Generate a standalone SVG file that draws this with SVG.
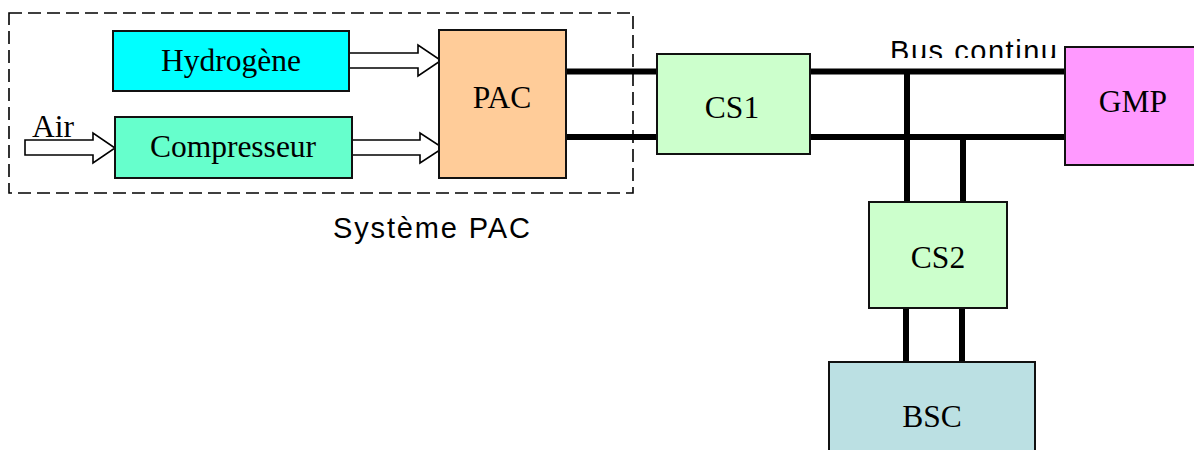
<svg xmlns="http://www.w3.org/2000/svg" width="1194" height="450" viewBox="0 0 1194 450">
<style>
.box{stroke:#111;stroke-width:2}
.lbl{font-family:"Liberation Serif","Times New Roman",serif;font-size:31.5px;fill:#000;text-anchor:middle}
.sans{font-family:"Liberation Sans",Arial,sans-serif;font-size:29px;fill:#000}
.bus{stroke:#000;stroke-width:6;fill:none}
.arr{fill:#fff;stroke:#000;stroke-width:1.6;stroke-linejoin:miter}
</style>
<defs>
<clipPath id="busclip"><rect x="880" y="30" width="200" height="28"/></clipPath>
</defs>
<rect x="9" y="13" width="624" height="180" fill="none" stroke="#000" stroke-width="1.6" stroke-dasharray="13 6"/>
<text class="sans" x="333" y="238" textLength="197" lengthAdjust="spacing">Système PAC</text>
<g id="connectors">
<polygon class="arr" points="349,53 418,53 418,45 441,60.5 418,76 418,68 349,68"/>
<polygon class="arr" points="25,140 93,140 93,133 115,148 93,163 93,155 25,155"/>
<polygon class="arr" points="352,140 420,140 420,133 443,148 420,163 420,155 352,155"/>
<line class="bus" x1="566" y1="71.5" x2="657" y2="71.5"/>
<line class="bus" x1="566" y1="137" x2="657" y2="137"/>
<line class="bus" x1="810" y1="71.5" x2="1065" y2="71.5"/>
<line class="bus" x1="810" y1="137" x2="1065" y2="137"/>
<line class="bus" x1="907" y1="69" x2="907" y2="203"/>
<line class="bus" x1="963" y1="134" x2="963" y2="203"/>
<line class="bus" x1="906" y1="308" x2="906" y2="362"/>
<line class="bus" x1="962" y1="308" x2="962" y2="362"/>
</g>
<text class="lbl" x="32" y="137" style="text-anchor:start">Air</text>
<text class="sans" x="890" y="61" textLength="167" lengthAdjust="spacing" clip-path="url(#busclip)">Bus continu</text>
<g id="hydrogene">
<rect class="box" x="113" y="31" width="236" height="60" fill="#00FFFF"/>
<text class="lbl" x="231" y="71">Hydrogène</text>
</g>
<g id="compresseur">
<rect class="box" x="115" y="117" width="237" height="61" fill="#66FFCC"/>
<text class="lbl" x="233" y="157">Compresseur</text>
</g>
<g id="pac">
<rect class="box" x="439" y="30" width="127" height="148" fill="#FFCC99"/>
<text class="lbl" x="502" y="108">PAC</text>
</g>
<g id="cs1">
<rect class="box" x="657" y="54" width="153" height="100" fill="#CCFFCC"/>
<text class="lbl" x="732" y="118">CS1</text>
</g>
<g id="gmp">
<rect class="box" x="1065" y="47" width="140" height="118" fill="#FF99FF"/>
<text class="lbl" x="1133" y="112">GMP</text>
</g>
<g id="cs2">
<rect class="box" x="869" y="202" width="138" height="106" fill="#CCFFCC"/>
<text class="lbl" x="938" y="268">CS2</text>
</g>
<g id="bsc">
<rect class="box" x="829" y="362" width="206" height="100" fill="#BBE0E3"/>
<text class="lbl" x="932" y="427">BSC</text>
</g>
</svg>
